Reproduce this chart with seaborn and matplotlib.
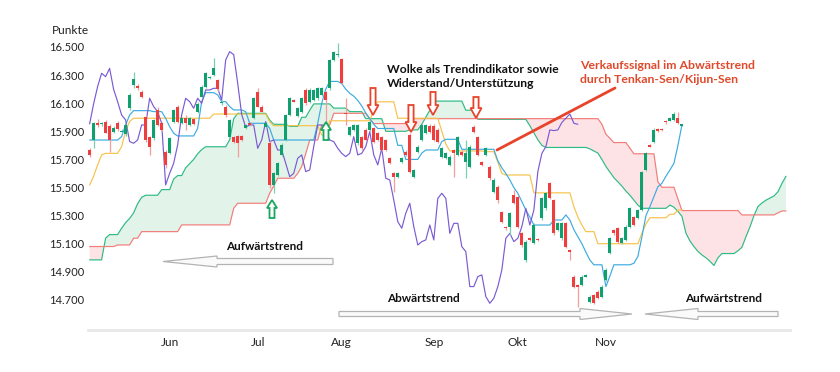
import numpy as np
import pandas as pd
import matplotlib
matplotlib.use("Agg")
import matplotlib.pyplot as plt
import seaborn as sns
from matplotlib.patches import Polygon
from matplotlib.lines import Line2D

# ---------------- data ----------------
opens = [15767,15838,15962,15950,15969,15938,15898,15962,15895,15881,16064,16230,16223,16182,16004,15862,15850,16052,15957,15755,
         15743,15969,16076,15957,15993,15945,15985,16040,16147,16218,16277,16301,16265,16099,16076,15862,15862,15867,15867,15921,
         15957,15993,16182,16076,15933,15815,15518,15590,15732,15838,16016,16123,16009,16040,16194,16111,16123,16135,16159,16182,
         16206,16408,16440,16412,16030,15874,15910,15815,15862,15910,15910,15921,15886,15862,15838,15708,15601,15573,15684,15755,
         15874,15577,15755,15838,15886,15938,15938,15910,15720,15708,15661,15767,15732,15755,15684,15649,15933,15862,15684,15732,
         15649,15471,15506,15328,15217,15222,15447,15435,15174,14984,15139,15103,15134,15281,15352,15530,15411,15198,15139,15245,
         15056,14866,14807,14807,14866,14688,14736,14759,14724,14842,15032,15198,15210,15103,15127,15222,15293,15281,15340,15625,
         15803,15827,15914,15917,15972,15976,15981,15993,15941]
highs = [15780,15969,15985,15965,15981,15950,15935,15975,15915,15955,16170,16325,16235,16195,16015,15870,15990,16076,15965,15765,
         15860,16060,16085,16000,16016,16000,15995,16105,16230,16320,16295,16420,16275,16120,16085,15990,15870,15875,15875,15955,
         15965,16145,16206,16085,15965,15830,15610,15680,15815,16025,16145,16130,16070,16145,16205,16205,16200,16215,16215,16190,
         16415,16475,16526,16420,16135,15940,15955,15955,15870,15920,15980,15930,15895,15870,15845,15715,15610,15610,15715,15765,
         15885,15635,15800,15955,15955,15950,15950,15920,15790,15750,15730,15775,15870,15765,15838,15800,15945,15870,15690,15790,
         15660,15565,15515,15335,15225,15325,15483,15445,15185,15125,15145,15245,15140,15430,15465,15540,15420,15255,15255,15255,
         15065,14875,14815,14875,14885,14735,14745,14770,14805,14925,15150,15205,15220,15145,15230,15360,15300,15350,15620,15750,
         15810,15920,15920,15925,15980,16000,16035,16040,15955]
lows = [15720,15780,15929,15940,15886,15755,15890,15900,15885,15870,16050,16206,16195,16140,15825,15732,15840,15935,15900,15640,
        15735,15960,15960,15950,15910,15940,15945,16030,16140,16210,16270,16295,16190,16090,16005,15850,15815,15720,15830,15915,
        15940,15985,16070,16035,15925,15500,15459,15580,15725,15830,16010,16105,16000,16030,16090,16100,16115,16125,16150,15957,
        16195,16400,16430,16235,15945,15865,15900,15805,15770,15830,15900,15815,15830,15760,15760,15665,15471,15565,15675,15725,
        15600,15570,15745,15830,15880,15890,15830,15820,15710,15700,15650,15578,15725,15725,15566,15640,15890,15725,15655,15725,
        15555,15460,15388,15250,15200,15162,15380,15210,15080,14970,15120,15095,15120,15270,15340,15415,15165,15190,15130,15070,
        14985,14785,14652,14800,14860,14680,14670,14705,14715,14835,15025,15165,15105,15095,15120,15215,15225,15275,15330,15615,
        15785,15820,15895,15905,15955,15970,15975,15950,15935]
closes = [15732,15957,15945,15955,15891,15838,15922,15914,15902,15943,16159,16270,16206,16147,15838,15791,15981,15945,15910,15661,
          15850,16052,15969,15993,15957,15993,15952,16095,16218,16313,16289,16348,16199,16111,16016,15981,15827,15815,15838,15945,
          15945,16135,16076,16040,15957,15518,15601,15672,15803,16016,16135,16111,16064,16135,16099,16194,16194,16206,16206,16123,
          16408,16467,16446,16242,16020,15929,15945,15945,15779,15838,15969,15827,15838,15767,15767,15672,15577,15601,15708,15732,
          15613,15625,15791,15945,15945,15898,15838,15827,15779,15743,15720,15743,15862,15732,15743,15791,15898,15732,15661,15779,
          15566,15554,15411,15257,15210,15317,15388,15222,15091,15115,15127,15233,15127,15423,15459,15423,15174,15245,15245,15079,
          15044,14795,14795,14866,14878,14724,14676,14712,14795,14913,15139,15174,15115,15139,15222,15352,15233,15340,15613,15743,
          15791,15910,15905,15910,15963,15993,16023,15957,15950]

tenkan = ([15838]*8 + [15862, 15945, 16016] + [16047]*5 + [16040]*3 + [15993, 15933, 15886] + [15867]*5 +
          [15921, 16111] + [16175]*3 + [16159] + [16111]*2 + [16076] + [16052]*3 + [16040] + [15957]*5 + [15921] +
          [15838]*11 + [15957, 16100, 16200] + [16255]*3 + [16240, 16200, 16170, 16150, 16120, 16080, 16030, 15990, 15950] +
          [15920]*5 + [15800]*2 + [15700]*4 + [15745] + [15767]*4 + [15827] + [15843]*4 + [15772]*9 +
          [15690, 15640, 15600, 15554, 15500, 15459, 15400, 15340, 15290] + [15233]*5 + [15269]*3 +
          [15305, 15269, 15200, 15150, 15100, 15040, 14984] + [14950]*3 + [14795, 14870] + [14950]*5 +
          [14961, 15010, 15150, 15300, 15364, 15435, 15506, 15530, 15580, 15625, 15672, 15800, 15945])
kijun = ([15518, 15580, 15660, 15732] + [15743]*4 + [15791, 15900, 15970] + [15993]*20 + [16023]*14 + [15969] +
         [15940]*12 + [15874]*2 + [15975]*11 + [16060] + [16110]*5 + [15993]*11 + [15900, 15810] + [15760]*9 +
         [15755]*3 + [15680, 15601] + [15589]*7 + [15462]*10 + [15364, 15290, 15233] + [15186]*3 + [15100]*11 +
         [15175, 15240] + [15285]*5 + [15310]*2 + [15340]*2)
span_a = ([14985]*4 + [15140] + [15165]*3 + [15210, 15250, 15280, 15320, 15385, 15430] + [15445]*4 + [15485]*3 +
          [15560] + [15585]*2 + [15640, 15670, 15700, 15740, 15770] + [15790]*6 + [15840, 15990] + [16028]*8 +
          [15980] + [15950]*4 + [15935]*3 + [16000]*2 + [16050] + [16095]*5 + [16065]*4 + [16040]*4 + [15990]*5 +
          [15900]*6 + [15910]*3 + [15950, 16000, 16050] + [16115]*8 + [16050]*3 + [15985]*13 +
          [15940, 15890, 15840, 15800] + [15785]*11 +
          [15775, 15760, 15745, 15700, 15650, 15610, 15570, 15540, 15510, 15475, 15445, 15410, 15375] + [15352]*7 +
          [15375, 15360, 15330, 15295, 15175, 15120, 15080, 15045, 15020, 15000, 14975, 14945, 15000] + [15030]*4 +
          [15050, 15075, 15150, 15220, 15300, 15365, 15390, 15410, 15425, 15440, 15470, 15530, 15580])
span_b = ([15080]*7 + [15091]*4 + [15139]*2 + [15186]*10 + [15234]*13 + [15352] + [15388]*8 + [15460, 15510] +
          [15566]*5 + [15600, 15650, 15740] + [15838]*3 + [15945]*3 + [16028]*9 + [15990] + [15955]*9 +
          [15990]*48 + [15950, 15880, 15850] + [15820]*4 + [15780] + [15740]*6 + [15540] + [15502]*4 + [15420] +
          [15336]*15 + [15305]*9 + [15320] + [15333]*2)

month_names = {6: "Jun", 7: "Jul", 8: "Aug", 9: "Sep", 10: "Okt", 11: "Nov"}
y_ticks = [14700, 14900, 15100, 15300, 15500, 15700, 15900, 16100, 16300, 16500]
shift = 26

# ---------------- figure ----------------
sns.set_theme(style="white")
plt.rcParams["font.family"] = ["Lato", "DejaVu Sans"]

W, H = 840, 372
fig = plt.figure(figsize=(W / 100, H / 100), dpi=100)
ax = fig.add_axes([88 / W, 1 - 330 / H, (790 - 88) / W, (330 - 38) / H])

n = len(closes)
dates = pd.bdate_range("2023-05-04", periods=n + shift)
xi = np.arange(n)
xe = np.arange(n + shift)

A = np.array(span_a, float)
B = np.array(span_b, float)
ax.fill_between(xe, A, B, where=A >= B, interpolate=True, color="#e2f3ea", lw=0, zorder=1)
ax.fill_between(xe, A, B, where=A < B, interpolate=True, color="#fde3e6", lw=0, zorder=1)

lw = 0.85
sns.lineplot(x=xe, y=A, ax=ax, color="#2dbb84", linewidth=lw, zorder=2)
sns.lineplot(x=xe, y=B, ax=ax, color="#f27c78", linewidth=lw, zorder=2)
sns.lineplot(x=xi, y=np.array(kijun, float), ax=ax, color="#f7c24a", linewidth=lw, zorder=3)
sns.lineplot(x=xi, y=np.array(tenkan, float), ax=ax, color="#3cabe0", linewidth=lw, zorder=3)
sns.lineplot(x=xi[:-shift], y=np.array(closes[shift:], float), ax=ax, color="#7a5bd3", linewidth=lw, zorder=3)

o = np.array(opens, float); h = np.array(highs, float)
l = np.array(lows, float); c = np.array(closes, float)
up = c >= o
body_col = np.where(up, "#10a06e", "#ee3e3e")
wick_col = np.where(up, "#7ccfae", "#f59c9c")
ax.vlines(xi, l, h, colors=wick_col, lw=0.9, zorder=4)
ax.bar(xi, np.maximum(np.abs(c - o), 7), bottom=np.minimum(o, c), width=0.72,
       color=body_col, linewidth=0, zorder=5)

ax.set_xlim(-0.4, n + shift)
ax.set_ylim(14486, 16564)

first = [i for i in range(1, n) if dates[i].month != dates[i - 1].month]
ax.set_xticks(first)
ax.set_xticklabels([month_names[dates[i].month] for i in first])
ax.set_yticks(y_ticks)
ax.set_yticklabels([f"{v:,}".replace(",", ".") for v in y_ticks])
ax.tick_params(axis="both", length=0, colors="#222222")
ax.tick_params(axis="y", pad=3, labelsize=8.0)
ax.tick_params(axis="x", pad=5, labelsize=8.6)
for s in ["top", "right", "left"]:
    ax.spines[s].set_visible(False)
ax.spines["bottom"].set_color("#e8e8e8")
ax.spines["bottom"].set_linewidth(2)
ax.set_xlabel(""); ax.set_ylabel("")
ax.grid(False)


def P(x, y):
    return (x / W, 1 - y / H)


def poly(pts, fc, ec, lw_=1.0):
    fig.add_artist(Polygon([P(x, y) for x, y in pts], closed=True, fc=fc, ec=ec, lw=lw_,
                           transform=fig.transFigure, zorder=10))


def varrow(x, y_tail, y_tip, color, sw=2.6, hw=5.5, hl=10):
    d = 1 if y_tip > y_tail else -1
    yb = y_tip - d * hl
    pts = [(x - sw, y_tail), (x + sw, y_tail), (x + sw, yb), (x + hw, yb), (x, y_tip),
           (x - hw, yb), (x - sw, yb)]
    poly(pts, "white", color, 1.3)


def harrow(x_tail, x_base, x_tip, y, bh=3.0, hh=5.5):
    pts = [(x_tail, y - bh), (x_base, y - bh), (x_base, y - hh), (x_tip, y),
           (x_base, y + hh), (x_base, y + bh), (x_tail, y + bh)]
    poly(pts, "#fafafa", "#b3b3b3", 0.9)


fig.text(*P(52, 30), "Punkte", fontsize=8.6, ha="left", va="center", color="#222222")

# trend arrows
harrow(333, 217, 163, 261.5)
harrow(339, 580, 632, 314, bh=2.5)
harrow(778, 698, 645, 314, bh=2.5)
fig.text(*P(265, 246), "Aufwärtstrend", fontsize=8.5, weight="bold", ha="center", va="center", color="#111111")
fig.text(*P(423, 299), "Abwärtstrend", fontsize=8.5, weight="bold", ha="center", va="center", color="#111111")
fig.text(*P(724, 299), "Aufwärtstrend", fontsize=8.5, weight="bold", ha="center", va="center", color="#111111")

# signal arrows
red = "#e8432b"
varrow(373, 88, 115, red)
varrow(411, 105, 132, red)
varrow(433, 92, 115, red)
varrow(476, 97, 118, red)
green = "#16a85c"
varrow(272, 218, 200, green, sw=2.5, hw=5, hl=8)
varrow(326, 140, 122, green, sw=2.5, hw=5, hl=8)

fig.add_artist(Line2D([497 / W, 615 / W], [1 - 150 / H, 1 - 88 / H], color=red, lw=2,
                      transform=fig.transFigure, zorder=9))

fig.text(*P(387, 64), "Wolke als Trendindikator sowie\nWiderstand/Unterstützung", fontsize=8.7,
         weight="bold", ha="left", va="top", color="#111111", linespacing=1.3)
fig.text(*P(580, 60), "Verkaufssignal im Abwärtstrend\ndurch Tenkan-Sen/Kijun-Sen", fontsize=8.8,
         weight="bold", ha="left", va="top", color="#e0492b", linespacing=1.3)

fig.savefig("out.png", dpi=100)
